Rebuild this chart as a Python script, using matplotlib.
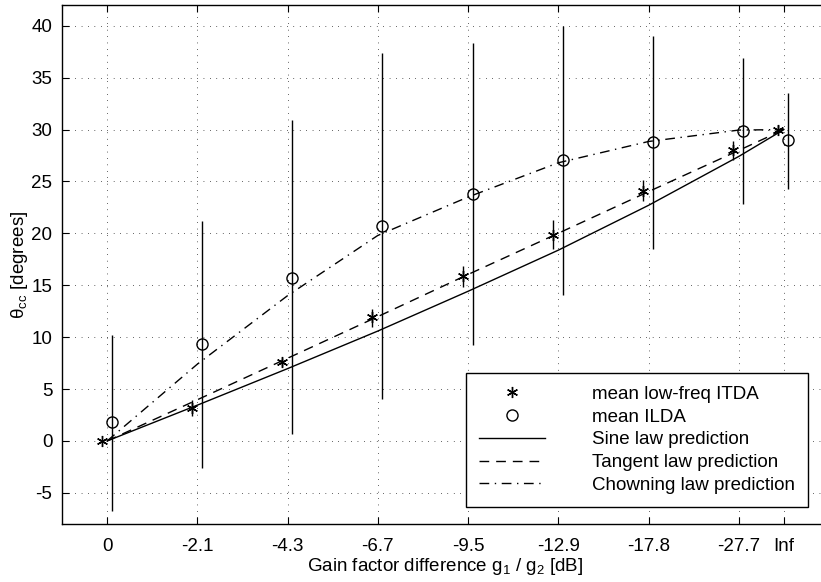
import matplotlib
matplotlib.use("Agg")
import matplotlib.pyplot as plt
import numpy as np

plt.rcParams['font.family'] = ['Liberation Sans', 'DejaVu Sans']
plt.rcParams['mathtext.fontset'] = 'custom'
plt.rcParams['mathtext.rm'] = 'Liberation Sans'
plt.rcParams['mathtext.it'] = 'Liberation Sans'
plt.rcParams['mathtext.default'] = 'rm'
plt.rcParams['axes.unicode_minus'] = False

# Categories (gain difference in dB)
tick_labels = ['0', '-2.1', '-4.3', '-6.7', '-9.5', '-12.9', '-17.8', '-27.7', 'Inf']
xpos = [0, 1, 2, 3, 4, 5, 6, 7, 7.5]

# Mean low-frequency ITDA (stars) and its small error range
itda_mean = [0.0, 3.2, 7.6, 11.9, 15.9, 19.8, 24.1, 28.0, 30.0]
itda_low = [0.0, 2.4, 7.2, 11.0, 14.85, 18.5, 23.1, 27.1, 29.7]
itda_high = [0.0, 3.9, 8.0, 12.7, 16.9, 21.25, 25.1, 28.9, 30.4]

# Mean ILDA (circles) and its large error range
ilda_mean = [1.85, 9.3, 15.7, 20.7, 23.8, 27.1, 28.8, 29.85, 29.0]
ilda_low = [-6.7, -2.6, 0.65, 4.0, 9.2, 14.1, 18.5, 22.8, 24.3]
ilda_high = [10.2, 21.2, 30.9, 37.4, 38.3, 40.0, 39.0, 36.9, 33.5]

# Predictions
sine_law = [0.0, 3.45, 6.97, 10.59, 14.42, 18.38, 22.70, 27.41, 30.0]
tangent_law = [0.0, 3.97, 7.97, 11.98, 16.04, 20.01, 24.02, 27.99, 30.0]
chowning_law = [0.0, 7.4, 14.0, 19.8, 23.5, 26.8, 28.85, 29.95, 30.0]

itda_off = -0.06
ilda_off = 0.05
FS = 13.5

fig = plt.figure(figsize=(8.21, 5.82), dpi=100)
ax = fig.add_axes([62/821, 1 - 524/582, (829 - 62)/821, (524 - 5)/582])

x = np.array(xpos, dtype=float)
xi = x + itda_off
xl = x + ilda_off

# error bars
ax.vlines(xl, ilda_low, ilda_high, colors='black', linewidth=1.0, zorder=2)
ax.vlines(xi, itda_low, itda_high, colors='black', linewidth=1.0, zorder=2)

star = (6, 2, 0)
h1, = ax.plot(xi, itda_mean, linestyle='none', marker=star, markersize=8,
              markeredgewidth=1.0, color='black', label='mean low-freq ITDA', zorder=4)
h2, = ax.plot(xl, ilda_mean, linestyle='none', marker='o', markersize=8,
              markerfacecolor='none', markeredgewidth=1.0, color='black',
              label='mean ILDA', zorder=4)
h3, = ax.plot(x, sine_law, '-', color='black', linewidth=1.0,
              label='Sine law prediction', zorder=3)
h4, = ax.plot(x, tangent_law, color='black', linewidth=1.0,
              linestyle=(0, (7, 5)), label='Tangent law prediction', zorder=3)
h5, = ax.plot(x, chowning_law, color='black', linewidth=1.0,
              linestyle=(0, (7, 4, 1, 4)), label='Chowning law prediction', zorder=3)

ax.set_xlim(-0.5, 8.0)
ax.set_ylim(-8, 42)
ax.set_xticks(xpos)
ax.set_xticklabels(tick_labels)
ax.set_yticks(np.arange(-5, 41, 5))
ax.tick_params(direction='in', top=True, right=True, labelsize=FS, length=5,
               width=0.8)
ax.tick_params(axis='x', pad=10)
ax.tick_params(axis='y', pad=7)
ax.grid(True, color='black', linestyle=(0, (0.6, 6)), linewidth=0.7)
for s in ax.spines.values():
    s.set_linewidth(1.0)

ax.set_xlabel('Gain factor difference g$_1$ / g$_2$ [dB]', fontsize=FS, labelpad=1)
ax.set_ylabel('θ$_{\\mathrm{cc}}$ [degrees]', fontsize=FS, labelpad=1)

leg = ax.legend(handles=[h1, h2, h3, h4, h5], loc='lower right',
                bbox_to_anchor=((808 - 62)/(829 - 62), (524 - 507)/(524 - 5)),
                fontsize=FS, frameon=True, fancybox=False, framealpha=1,
                edgecolor='black', handlelength=3.5, handletextpad=2.5,
                borderpad=0.7, labelspacing=0.3, borderaxespad=0)
leg.get_frame().set_linewidth(1.0)

fig.savefig('out.png', dpi=100)
